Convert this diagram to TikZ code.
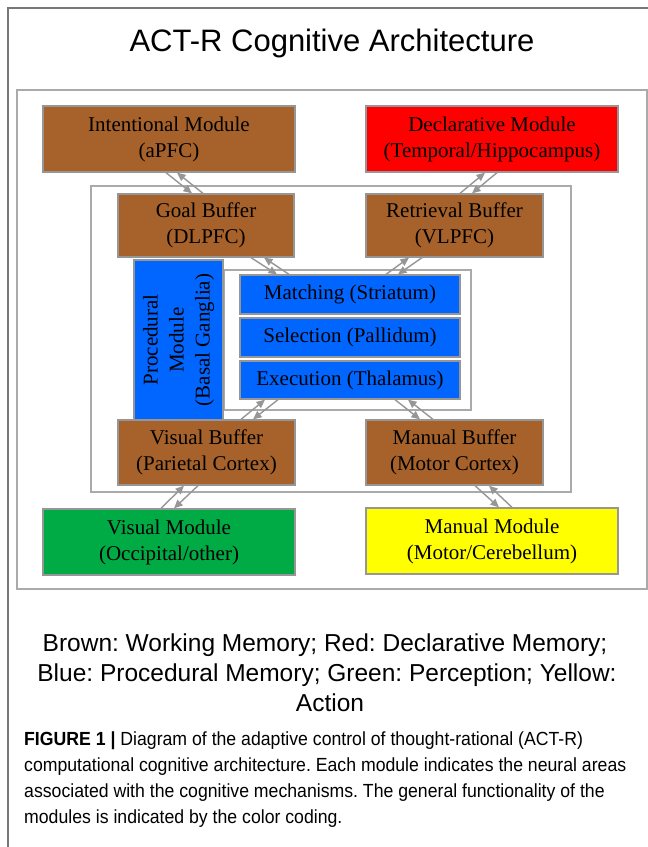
\documentclass[tikz,border=0pt]{standalone}
\usepackage{fontspec}
\setmainfont{Liberation Serif}
\newfontfamily\arial{Liberation Sans}
\newfontfamily\capfont[FakeStretch=0.93]{Liberation Sans}
\usetikzlibrary{arrows.meta}
\definecolor{brownbox}{RGB}{166,98,42}
\definecolor{redbox}{RGB}{255,0,0}
\definecolor{bluebox}{RGB}{0,102,255}
\definecolor{greenbox}{RGB}{0,170,68}
\definecolor{yellowbox}{RGB}{255,255,0}
\definecolor{boxline}{RGB}{150,150,150}
\definecolor{framec}{RGB}{170,170,170}
\definecolor{outerc}{RGB}{120,120,120}
\definecolor{connc}{RGB}{150,150,150}
\newcommand\mybox[7]{\node[modbox,fill=#6,minimum width={#4-#2},minimum height={#5-#3}] (#1) at ({(#2+#4)/2},{(#3+#5)/2}) {#7};}
\frenchspacing
\begin{document}
\begin{tikzpicture}[x=1pt,y=-1pt,
  modbox/.style={draw=boxline, line width=1.3pt, inner sep=0pt, align=center, font=\fontsize{21}{26}\selectfont},
  conn/.style={draw=connc, line width=1.4pt, -{Triangle[length=8.5pt,width=7.5pt]}},
  frm/.style={draw=framec, line width=2pt},
  outerln/.style={draw=outerc, line width=1.3pt}]
\useasboundingbox[fill=white] (0,0) rectangle (648,847);
% outer frame
\draw[outerln] (8,847) -- (8,8) -- (648,8);
% title
\node[anchor=base, font=\arial\fontsize{31}{36}\selectfont] (title) at (332,51) {ACT-R Cognitive Architecture};
% frames
\draw[frm] (17,90) rectangle (647,589);
\draw[frm] (91,186) rectangle (571,492);
\draw[frm] (224,270) rectangle (471,410);
% boxes
\mybox{intent}{43}{106}{295}{172}{brownbox}{Intentional Module\\(aPFC)}
\mybox{decl}{366}{106}{618}{172}{redbox}{Declarative Module\\(Temporal/Hippocampus)}
\mybox{goal}{118}{194}{294}{257}{brownbox}{Goal Buffer\\(DLPFC)}
\mybox{retr}{366}{194}{543}{257}{brownbox}{Retrieval Buffer\\(VLPFC)}
\mybox{match}{240}{275}{460}{314}{bluebox}{Matching (Striatum)}
\mybox{select}{240}{318}{460}{357}{bluebox}{Selection (Pallidum)}
\mybox{exec}{240}{361}{460}{399}{bluebox}{Execution (Thalamus)}
\mybox{vbuf}{118}{420}{295}{485}{brownbox}{Visual Buffer\\(Parietal Cortex)}
\mybox{mbuf}{366}{420}{543}{485}{brownbox}{Manual Buffer\\(Motor Cortex)}
\mybox{vmod}{43}{509}{295}{575}{greenbox}{Visual Module\\(Occipital/other)}
\mybox{mmod}{366}{508}{618}{574}{yellowbox}{Manual Module\\(Motor/Cerebellum)}
\node[modbox, fill=bluebox, minimum width=89, minimum height=160] (proc) at (178.5,340) {};
\node[rotate=90, align=center, font=\fontsize{21}{26}\selectfont] (proctext) at (proc.center) {Procedural\\Module\\(Basal Ganglia)};
% connectors
\draw[conn] (intent.south -| 166,0) -- (goal.north -| 192,0);
\draw[conn] (goal.north -| 203,0) -- (intent.south -| 177,0);
\draw[conn] (decl.south -| 497,0) -- (retr.north -| 472,0);
\draw[conn] (retr.north -| 460,0) -- (decl.south -| 485,0);
\draw[conn] (goal.south -| 251,0) -- (match.north -| 277,0);
\draw[conn] (match.north -| 289,0) -- (goal.south -| 264,0);
\draw[conn] (retr.south -| 422,0) -- (match.north -| 398,0);
\draw[conn] (match.north -| 386,0) -- (retr.south -| 409,0);
\draw[conn] (exec.south -| 278,0) -- (vbuf.north -| 253,0);
\draw[conn] (vbuf.north -| 241,0) -- (exec.south -| 265,0);
\draw[conn] (exec.south -| 395,0) -- (mbuf.north -| 420,0);
\draw[conn] (mbuf.north -| 433,0) -- (exec.south -| 408,0);
\draw[conn] (vbuf.south -| 198,0) -- (vmod.north -| 174,0);
\draw[conn] (vmod.north -| 161,0) -- (vbuf.south -| 184,0);
\draw[conn] (mbuf.south -| 475,0) -- (mmod.north -| 499,0);
\draw[conn] (mmod.north -| 512,0) -- (mbuf.south -| 489,0);
% legend
\node[anchor=base, font=\arial\fontsize{24.5}{30}\selectfont] (leg1) at (325,651) {Brown: Working Memory; Red: Declarative Memory;};
\node[anchor=base, font=\arial\fontsize{24.5}{30}\selectfont] (leg2) at (327,681) {Blue: Procedural Memory; Green: Perception; Yellow:};
\node[anchor=base, font=\arial\fontsize{24.5}{30}\selectfont] (leg3) at (330,711) {Action};
% caption
\node[anchor=base west, inner sep=0pt, font=\capfont\fontsize{19}{26}\selectfont] (cap1) at (24,745) {\textbf{FIGURE 1 |} Diagram of the adaptive control of thought-rational (ACT-R)};
\node[anchor=base west, inner sep=0pt, font=\capfont\fontsize{19}{26}\selectfont] (cap2) at (24,771) {computational cognitive architecture. Each module indicates the neural areas};
\node[anchor=base west, inner sep=0pt, font=\capfont\fontsize{19}{26}\selectfont] (cap3) at (24,797) {associated with the cognitive mechanisms. The general functionality of the};
\node[anchor=base west, inner sep=0pt, font=\capfont\fontsize{19}{26}\selectfont] (cap4) at (24,823) {modules is indicated by the color coding.};
\end{tikzpicture}
\end{document}
